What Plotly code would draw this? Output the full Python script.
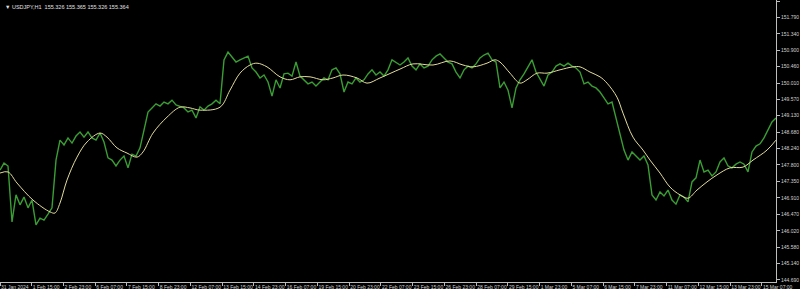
import numpy as np
import plotly.graph_objects as go

# ---- data ----
# close prices, one value every 4 hourly bars
close_prices = [
    147.66, 147.85, 147.77, 146.26, 146.99, 146.72, 146.93, 146.64, 146.85, 146.18,
    146.36, 146.31, 146.47, 146.64, 147.93, 148.47, 148.34, 148.53, 148.39, 148.58,
    148.69, 148.55, 148.69, 148.53, 148.47, 148.66, 148.42, 147.99, 147.93, 147.77,
    147.93, 148.04, 147.72, 148.09, 148.04, 148.26, 148.74, 149.23, 149.34, 149.45,
    149.39, 149.50, 149.45, 149.55, 149.42, 149.39, 149.34, 149.23, 149.28, 149.07,
    149.37, 149.28, 149.39, 149.45, 149.55, 149.45, 150.64, 150.85, 150.72, 150.58,
    150.64, 150.69, 150.74, 150.42, 150.31, 150.15, 150.23, 150.04, 149.66, 150.10,
    149.88, 150.26, 150.28, 150.20, 150.58, 150.20, 150.10, 149.99, 150.04, 149.93,
    150.04, 150.15, 150.10, 150.37, 150.42, 150.26, 149.77, 150.04, 149.99, 150.15,
    150.04, 150.10, 150.26, 150.37, 150.23, 150.31, 150.20, 150.37, 150.64, 150.58,
    150.50, 150.58, 150.69, 150.47, 150.37, 150.53, 150.42, 150.47, 150.64, 150.74,
    150.80, 150.69, 150.58, 150.53, 150.31, 150.15, 150.37, 150.47, 150.42, 150.53,
    150.69, 150.77, 150.82, 150.64, 150.58, 149.88, 150.04, 149.82, 149.34, 149.88,
    150.10, 150.26, 150.47, 150.64, 150.31, 150.10, 149.93, 150.23, 150.31, 150.47,
    150.53, 150.47, 150.55, 150.47, 150.42, 150.31, 149.99, 150.04, 149.93,
    149.88, 149.77, 149.61, 149.45, 149.50, 149.07, 148.69, 148.20, 147.93, 148.15,
    148.04, 147.93, 148.04, 147.80, 146.99, 146.85, 147.07, 146.96, 147.12, 146.85,
    146.74, 146.99, 146.93, 146.80, 147.34, 147.45, 147.93, 147.61, 147.66, 147.50,
    147.61, 147.88, 147.99, 147.77, 147.72, 147.82, 147.88, 147.82, 147.61, 148.15,
    148.31, 148.37, 148.53, 148.74, 148.96, 149.07,
]

# moving average: bar index and value
ma_bar = [0, 8, 17, 33, 50, 55, 60, 67, 77, 87,
          100, 107, 117, 127, 137, 143, 153, 167, 180, 190,
          200, 220, 230, 240, 250, 257, 267, 280, 290, 300,
          310, 323, 333, 343, 357, 367, 380, 400, 413, 433,
          450, 463, 473, 487, 495, 500, 510, 520, 527, 537,
          547, 560, 573, 580, 590, 600, 607, 617, 623, 633,
          643, 650, 660, 670, 680, 688, 697, 707, 717, 730,
          743, 753, 767, 776]
ma_values = [147.58, 147.61, 147.31, 146.85, 146.53, 146.50, 146.77, 147.39, 148.01, 148.42,
             148.66, 148.55, 148.26, 148.12, 148.01, 148.15, 148.66, 149.09, 149.36, 149.34,
             149.28, 149.36, 149.82, 150.28, 150.50, 150.55, 150.45, 150.18, 150.10, 150.18,
             150.18, 150.10, 150.15, 150.23, 150.15, 150.01, 150.15, 150.39, 150.53, 150.50,
             150.61, 150.50, 150.45, 150.55, 150.64, 150.58, 150.28, 150.01, 150.10, 150.28,
             150.28, 150.37, 150.45, 150.45, 150.31, 150.18, 150.01, 149.63, 149.20, 148.55,
             148.20, 147.93, 147.58, 147.20, 146.99, 146.90, 147.12, 147.34, 147.53, 147.72,
             147.74, 147.93, 148.20, 148.47]

x_tick_labels = ["31 Jan 2024", "1 Feb 15:00", "2 Feb 23:00", "6 Feb 07:00", "7 Feb 15:00",
                 "8 Feb 23:00", "12 Feb 07:00", "13 Feb 15:00", "14 Feb 23:00", "16 Feb 07:00",
                 "19 Feb 15:00", "20 Feb 23:00", "22 Feb 07:00", "23 Feb 15:00", "26 Feb 23:00",
                 "28 Feb 07:00", "29 Feb 15:00", "1 Mar 23:00", "5 Mar 07:00", "6 Mar 15:00",
                 "7 Mar 23:00", "11 Mar 07:00", "12 Mar 15:00", "13 Mar 23:00", "15 Mar 07:00"]
y_tick_values = [152.230, 151.790, 151.340, 150.900, 150.460, 150.010, 149.570, 149.130, 148.680,
                 148.240, 147.800, 147.350, 146.910, 146.470, 146.020, 145.580, 145.140, 144.690]

header = "\u25bc USDJPY,H1  155.326 155.365 155.326 155.364"

# ---- geometry ----
BARS_PER_LABEL = 32
SCALE = 1.008  # bars per pixel-step in the reading
close_x = np.arange(len(close_prices)) * 4 * SCALE
ma_x = np.array(ma_bar) * SCALE
tick_x = np.arange(len(x_tick_labels)) * BARS_PER_LABEL

fig = go.Figure()
fig.add_trace(go.Scatter(x=close_x, y=close_prices, mode="lines",
                         line=dict(color="#3a9e34", width=1.4), hoverinfo="skip"))
fig.add_trace(go.Scatter(x=ma_x, y=ma_values, mode="lines", line_shape="spline",
                         line=dict(color="#e3dc9c", width=1), hoverinfo="skip"))

axis_col = "#bdbdbd"
FONT = "Liberation Sans"
fig.update_layout(
    width=800, height=289,
    margin=dict(l=0, r=24, t=0, b=7),
    paper_bgcolor="black", plot_bgcolor="black",
    showlegend=False,
    font=dict(family=FONT, size=5, color="#d0d0d0"),
    xaxis=dict(range=[0, 776 * SCALE], showgrid=False, zeroline=False,
               showline=True, linecolor=axis_col, linewidth=1,
               tickmode="array", tickvals=tick_x, ticktext=x_tick_labels,
               ticks="outside", ticklen=3, tickcolor=axis_col, tickangle=0,
               ticklabelposition="outside right",
               tickfont=dict(family=FONT, size=5, color="#d0d0d0")),
    yaxis=dict(range=[144.635, 152.257], side="right", showgrid=False, zeroline=False,
               showline=True, linecolor=axis_col, linewidth=1,
               tickmode="array", tickvals=y_tick_values,
               ticktext=[f"{v:.3f}" for v in y_tick_values],
               ticks="outside", ticklen=3, tickcolor=axis_col,
               tickfont=dict(family=FONT, size=5, color="#d0d0d0")),
    annotations=[dict(text=header, xref="paper", yref="paper", x=0, y=1,
                      xanchor="left", yanchor="top", xshift=3, yshift=-2,
                      showarrow=False, font=dict(family=FONT, size=5.5, color="#e0e0e0"))],
)

fig.write_html("out.html")
